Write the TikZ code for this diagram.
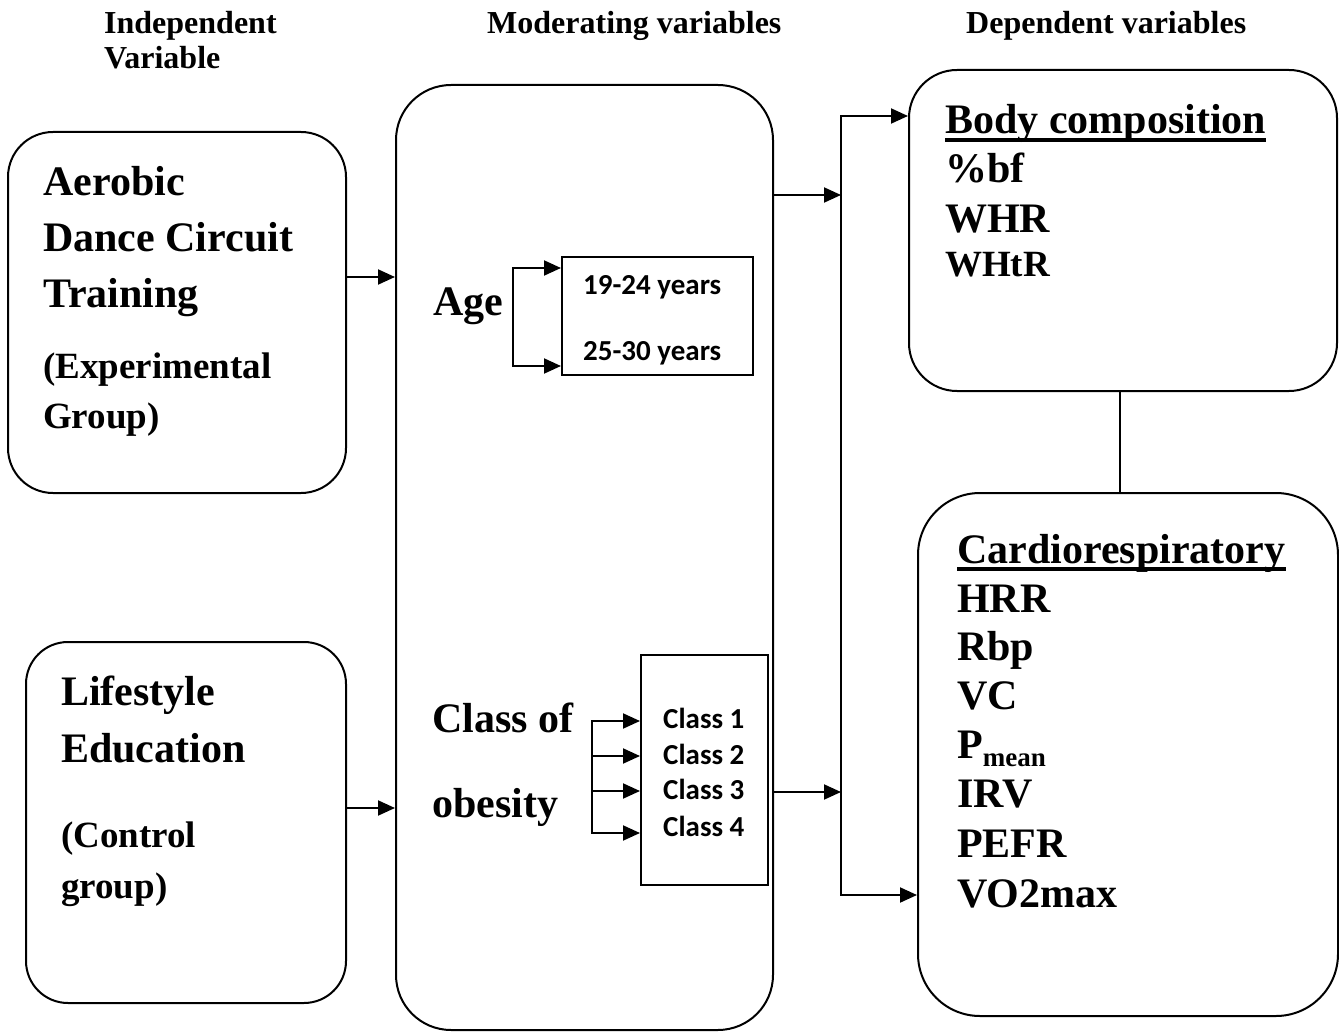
\documentclass[tikz,border=0pt]{standalone}
\usepackage{fontspec}
\setmainfont{Liberation Serif}
\newfontfamily\calib{Carlito}
\usetikzlibrary{arrows.meta,calc}
\begin{document}
\begin{tikzpicture}[x=1pt,y=-1pt,
  box/.style={draw,line width=2pt,rounded corners=#1,inner sep=0pt},
  sqbox/.style={draw,line width=2pt,inner sep=0pt},
  arr/.style={line width=2pt,-{Triangle[length=17pt,width=15pt]}},
  ln/.style={line width=2pt},
  ul/.style={line width=3.2pt},
  hd/.style={anchor=base west,inner sep=0pt,font=\bfseries\fontsize{32}{38}\selectfont},
  big/.style={anchor=base west,inner sep=0pt,font=\bfseries\fontsize{42}{50}\selectfont},
  mid/.style={anchor=base west,inner sep=0pt,font=\bfseries\fontsize{37}{44}\selectfont},
  cal/.style={anchor=base west,inner sep=0pt,font=\calib\bfseries\fontsize{29}{34}\selectfont}
]
\useasboundingbox (0,0) rectangle (1339,1032);

% headers
\node[hd] (h1a) at (104,34) {Independent};
\node[hd] (h1b) at (104,69) {Variable};
\node[hd] (h2) at (487,34) {Moderating variables};
\node[hd] (h3) at (966,34) {Dependent variables};

% boxes
\node[box=45, minimum width=338, minimum height=361] (aer) at (177,312.5) {};
\node[box=42, minimum width=320, minimum height=361] (life) at (186,822.5) {};
\node[box=55, minimum width=377, minimum height=945] (midb) at (584.5,557.5) {};
\node[box=48, minimum width=428, minimum height=321] (body) at (1123,230.5) {};
\node[box=62, minimum width=420, minimum height=523] (card) at (1128,754.5) {};
\node[sqbox, minimum width=191, minimum height=118] (agebox) at (657.5,316) {};
\node[sqbox, minimum width=127, minimum height=230] (clsbox) at (704.5,770) {};

% left box texts
\node[big] (t1) at (43,196) {Aerobic};
\node[big] (t2) at (43,252) {Dance Circuit};
\node[big] (t3) at (43,308) {Training};
\node[mid] (t4) at (43,378) {(Experimental};
\node[mid] (t5) at (43,428) {Group)};

\node[big] (l1) at (61,705) {Lifestyle};
\node[big] (l2) at (61,762) {Education};
\node[mid] (l3) at (61,847) {(Control};
\node[mid] (l4) at (61,898) {group)};

% middle texts
\node[big] (age) at (433,316) {Age};
\node[cal] (a1t) at (583,295) {19-24 years};
\node[cal] (a2t) at (583,360) {25-30 years};
\node[big] (co1) at (432,732) {Class of};
\node[big] (co2) at (432,817) {obesity};
\node[cal] (k1) at (663,728) {Class 1};
\node[cal] (k2) at (663,764) {Class 2};
\node[cal] (k3) at (663,799) {Class 3};
\node[cal] (k4) at (663,836) {Class 4};

% right texts
\node[big] (bc) at (945,134) {Body composition};
\draw[ul] ($(bc.base west)+(0,6)$) -- ($(bc.base east)+(0,6)$);
\node[big] (b1) at (945,183) {\%bf};
\node[big] (b2) at (945,233) {WHR};
\node[mid] (b3) at (945,277) {WHtR};

\node[big] (cr) at (957,563) {Cardiorespiratory};
\draw[ul] ($(cr.base west)+(0,6)$) -- ($(cr.base east)+(0,6)$);
\node[big] (c1) at (957,612) {HRR};
\node[big] (c2) at (957,660) {Rbp};
\node[big] (c3) at (957,709) {VC};
\node[big] (c4) at (957,758) {P\raisebox{-8pt}{\fontsize{27}{30}\selectfont mean}};
\node[big] (c5) at (957,807) {IRV};
\node[big] (c6) at (957,857) {PEFR};
\node[big] (c7) at (957,907) {VO2max};

% connectors
\coordinate (ya) at (0,277);
\coordinate (yl) at (0,808);
\draw[arr] (aer.east |- ya) -- (midb.west |- ya);
\draw[arr] (life.east |- yl) -- (midb.west |- yl);

\coordinate (jtop) at (841,116);
\coordinate (jbot) at (841,895);
\coordinate (j1) at (841,195);
\coordinate (j2) at (841,792);
\draw[ln] (jtop) -- (jbot);
\draw[arr] (midb.east |- j1) -- (j1);
\draw[arr] (midb.east |- j2) -- (j2);
\draw[arr] ([xshift=-1pt]jtop) -- (body.west |- jtop);
\draw[arr] ([xshift=-1pt]jbot) -- (card.west |- jbot);

\coordinate (lk) at (1120,0);
\draw[ln] (body.south -| lk) -- (card.north -| lk);

% age bracket
\coordinate (g1) at (513,268);
\coordinate (g2) at (513,366);
\draw[ln] (g1) -- (g2);
\draw[arr] ([xshift=-1pt]g1) -- (agebox.west |- g1);
\draw[arr] ([xshift=-1pt]g2) -- (agebox.west |- g2);

% class bracket
\coordinate (q1) at (592,721);
\coordinate (q2) at (592,756);
\coordinate (q3) at (592,791);
\coordinate (q4) at (592,833);
\draw[ln] (q1) -- (q4);
\draw[arr] ([xshift=-1pt]q1) -- (clsbox.west |- q1);
\draw[arr] (q2) -- (clsbox.west |- q2);
\draw[arr] (q3) -- (clsbox.west |- q3);
\draw[arr] ([xshift=-1pt]q4) -- (clsbox.west |- q4);
\end{tikzpicture}
\end{document}
